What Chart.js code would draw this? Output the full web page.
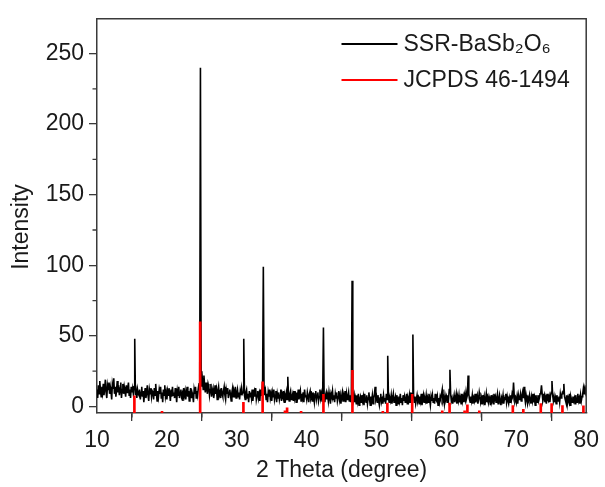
<!DOCTYPE html>
<html>
<head>
<meta charset="utf-8">
<script src="https://cdn.jsdelivr.net/npm/chart.js@4"></script>
<style>
  body { margin: 0; background: #fff; }
  #wrap { width: 605px; height: 487px; }
</style>
</head>
<body>
<div id="wrap"><canvas id="xrdChart" width="605" height="487"></canvas></div>
<script>
// scan grid: 10.0 to 80.0 degrees, 0.1 step (one row of 10 values per degree)
const scanStart = 10;
const scanStep = 0.1;
const intensity = [
    12, 6, 15, 9, 18, 11, 7, 14, 10, 16,      // 10
    8, 13, 19, 10, 6, 15, 12, 17, 9, 14,      // 11
    11, 5, 16, 13, 20, 9, 14, 7, 12, 18,      // 12
    10, 15, 8, 13, 17, 6, 12, 16, 9, 14,      // 13
    11, 7, 15, 10, 13, 17, 8, 12, 6, 14,      // 14
    10, 13, 9, 14, 48, 8, 11, 6, 12, 9,       // 15
    8, 12, 5, 10, 14, 7, 11, 3, 9, 13,        // 16
    6, 10, 15, 8, 4, 12, 9, 13, 7, 11,        // 17
    10, 5, 13, 8, 16, 9, 4, 11, 7, 12,        // 18
    9, 14, 6, 10, 3, 12, 8, 15, 7, 10,        // 19
    5, 11, 8, 13, 9, 4, 12, 7, 14, 8,         // 20
    10, 6, 13, 9, 3, 11, 8, 14, 6, 10,        // 21
    12, 7, 9, 4, 13, 8, 11, 5, 10, 14,        // 22
    7, 11, 4, 9, 13, 6, 10, 8, 3, 12,         // 23
    9, 14, 6, 11, 8, 13, 16, 20, 240, 25,     // 24
    14, 18, 12, 22, 15, 10, 17, 13, 9, 16,    // 25
    14, 8, 12, 16, 7, 11, 13, 6, 10, 15,      // 26
    9, 12, 5, 11, 14, 8, 10, 6, 13, 9,        // 27
    7, 11, 14, 8, 5, 12, 9, 13, 6, 10,        // 28
    12, 8, 4, 10, 13, 7, 11, 9, 14, 6,        // 29
    9, 12, 7, 10, 5, 11, 8, 13, 9, 10,        // 30
    48, 8, 5, 10, 12, 6, 9, 3, 11, 7,         // 31
    10, 6, 12, 4, 9, 11, 7, 13, 5, 8,         // 32
    11, 6, 9, 4, 12, 8, 10, 18, 99, 14,       // 33
    8, 11, 5, 9, 3, 10, 7, 12, 6, 9,          // 34
    4, 10, 7, 12, 5, 8, 11, 3, 9, 6,          // 35
    10, 5, 8, 12, 4, 9, 7, 11, 3, 8,          // 36
    6, 10, 5, 21, 8, 4, 9, 11, 5, 7,          // 37
    9, 4, 11, 6, 8, 3, 10, 7, 12, 5,          // 38
    8, 11, 4, 9, 6, 10, 3, 12, 7, 8,          // 39
    5, 10, 7, 3, 9, 11, 6, 8, 4, 10,          // 40
    7, 3, 9, 11, 5, 8, 10, 4, 7, 12,          // 41
    6, 9, 4, 11, 56, 7, 3, 8, 10, 5,          // 42
    8, 4, 10, 6, 2, 9, 7, 11, 5, 8,           // 43
    3, 9, 6, 10, 4, 7, 11, 5, 8, 2,           // 44
    7, 10, 4, 8, 6, 11, 3, 9, 5, 7,           // 45
    10, 4, 8, 3, 9, 89, 12, 5, 8, 3,          // 46
    6, 2, 8, 4, 9, 1, 5, 7, 3, 8,             // 47
    4, 7, 1, 9, 5, 3, 8, 2, 6, 10,            // 48
    5, 1, 7, 4, 8, 2, 6, 9, 14, 5,            // 49
    7, 3, 8, 4, 1, 6, 9, 3, 5, 2,             // 50
    8, 4, 6, 2, 9, 5, 36, 7, 3, 6,            // 51
    4, 8, 2, 6, 9, 3, 5, 7, 1, 8,             // 52
    5, 2, 7, 4, 9, 3, 6, 1, 8, 4,             // 53
    7, 3, 5, 9, 2, 6, 4, 8, 3, 10,            // 54
    6, 9, 51, 8, 3, 7, 2, 5, 8, 4,            // 55
    6, 2, 7, 4, 9, 1, 5, 8, 3, 6,             // 56
    4, 8, 2, 6, 3, 9, 5, 1, 7, 4,             // 57
    8, 3, 6, 2, 9, 5, 4, 7, 1, 6,             // 58
    3, 7, 5, 9, 12, 4, 6, 2, 8, 5,            // 59
    7, 3, 8, 5, 12, 26, 9, 4, 6, 2,           // 60
    5, 8, 3, 6, 9, 2, 7, 4, 8, 3,             // 61
    6, 2, 9, 4, 7, 3, 8, 5, 10, 6,            // 62
    8, 22, 9, 5, 3, 7, 4, 8, 2, 6,            // 63
    4, 9, 3, 6, 8, 2, 5, 10, 7, 3,            // 64
    6, 2, 8, 4, 7, 1, 5, 9, 3, 6,             // 65
    3, 7, 5, 1, 8, 4, 6, 2, 9, 5,             // 66
    7, 3, 6, 9, 2, 5, 8, 4, 1, 6,             // 67
    4, 8, 2, 6, 5, 9, 3, 7, 4, 2,             // 68
    6, 3, 8, 5, 9, 7, 17, 8, 4, 6,            // 69
    3, 7, 2, 8, 5, 6, 9, 4, 7, 10,            // 70
    6, 14, 7, 3, 8, 5, 2, 6, 4, 8,            // 71
    5, 2, 7, 4, 9, 3, 6, 1, 8, 5,             // 72
    3, 8, 4, 6, 9, 10, 15, 9, 4, 6,           // 73
    8, 3, 6, 2, 9, 5, 4, 7, 3, 8,             // 74
    10, 18, 8, 4, 7, 3, 6, 2, 8, 5,           // 75
    4, 7, 3, 9, 6, 8, 10, 9, 16, 7,           // 76
    5, 3, 8, 2, 6, 4, 9, 1, 7, 5,             // 77
    3, 7, 4, 6, 2, 8, 5, 3, 9, 4,             // 78
    6, 2, 8, 4, 7, 9, 13, 9, 12, 10,          // 79
    15                                        // 80
];

// JCPDS 46-1494 reference lines: position (degree) and top of stick
const refPos = [15.35, 19.3, 24.76, 30.95, 33.7, 36.9, 37.2, 39.2, 42.4, 46.55, 50.9, 51.55, 55.1,
                59.4, 60.45, 62.6, 63.0, 64.7, 69.5, 71.0, 73.5, 75.05, 76.6, 79.6];
const refTop = [7.5, -3.5, 60, 3, 17.5, -3, -1, -3.5, 8.7, 25.7, -3.5, 2.4, 8.7,
                -3, 2.4, -3, 1.2, -3, 0.7, -2, 2, 2, 0.7, 0.5];

const yMin = -4.6;
const yMax = 274.6;
const xMinorTicks = [15, 25, 35, 45, 55, 65, 75];
const yMinorTicks = [25, 75, 125, 175, 225];
const yTitle = 'Intensity';

const axisColor = '#3a3a3a';
const textColor = '#1a1a1a';
const fontFamily = '"Liberation Sans", Arial, sans-serif';

const pattern = intensity.map((v, i) => ({ x: +(scanStart + i * scanStep).toFixed(1), y: v }));
const sticks = refPos.map((p, i) => ({ x: p, y: [yMin, refTop[i]] }));

// frame, minor ticks, y title and the legend inside the plot
const framePlugin = {
    id: 'frame',
    afterDraw(chart) {
        const c = chart.ctx;
        const a = chart.chartArea;
        const xs = chart.scales.x;
        const ys = chart.scales.y;
        c.save();
        c.strokeStyle = axisColor;
        c.lineWidth = 1.5;
        c.beginPath();
        c.moveTo(a.left, a.top);
        c.lineTo(a.right, a.top);
        c.lineTo(a.right, a.bottom);
        c.stroke();
        c.lineWidth = 1.3;
        c.beginPath();
        xMinorTicks.forEach(v => {
            const px = xs.getPixelForValue(v);
            c.moveTo(px, a.bottom);
            c.lineTo(px, a.bottom + 4.5);
        });
        yMinorTicks.forEach(v => {
            const py = ys.getPixelForValue(v);
            c.moveTo(a.left, py);
            c.lineTo(a.left - 4.5, py);
        });
        c.stroke();

        c.font = '23px ' + fontFamily;
        c.fillStyle = textColor;

        // y axis title, a bit below the middle as in the figure
        c.save();
        c.translate(22, 227);
        c.rotate(-Math.PI / 2);
        c.textAlign = 'center';
        c.textBaseline = 'middle';
        c.fillText(yTitle, 0, 0);
        c.restore();

        // legend
        const items = chart.data.datasets;
        const rows = [44, 80];
        c.textBaseline = 'middle';
        items.forEach((ds, i) => {
            c.strokeStyle = ds.type === 'bar' ? ds.backgroundColor : ds.borderColor;
            c.lineWidth = 2;
            c.beginPath();
            c.moveTo(341.5, rows[i]);
            c.lineTo(397.5, rows[i]);
            c.stroke();
            c.fillText(ds.label, 403.5, rows[i] + 1);
        });
        c.restore();
    }
};

const ctx = document.getElementById('xrdChart').getContext('2d');
const xrdChart = new Chart(ctx, {
    type: 'line',
    data: {
        datasets: [
            {
                type: 'line',
                label: 'SSR-BaSb₂O₆',
                data: pattern,
                borderColor: '#000000',
                borderWidth: 1.6,
                pointRadius: 0,
                tension: 0,
                order: 1
            },
            {
                type: 'bar',
                label: 'JCPDS 46-1494',
                data: sticks,
                backgroundColor: '#ff0000',
                borderWidth: 0,
                barThickness: 2,
                grouped: false,
                order: 0
            }
        ]
    },
    options: {
        responsive: false,
        animation: false,
        layout: { padding: { top: 15, right: 18, left: 0, bottom: 0 } },
        plugins: {
            legend: { display: false },
            tooltip: { enabled: false }
        },
        scales: {
            x: {
                type: 'linear',
                min: 10,
                max: 80,
                offset: false,
                afterFit(scale) { scale.height = 74; },
                ticks: {
                    stepSize: 10,
                    includeBounds: false,
                    padding: 6,
                    maxRotation: 0,
                    color: textColor,
                    font: { family: fontFamily, size: 23 }
                },
                grid: { drawOnChartArea: false, drawTicks: true, tickLength: 8, color: axisColor, lineWidth: 1.3 },
                border: { display: true, color: axisColor, width: 1.5 },
                title: {
                    display: true,
                    text: '2 Theta (degree)',
                    color: textColor,
                    font: { family: fontFamily, size: 23 },
                    padding: { top: 0, bottom: 3 }
                }
            },
            y: {
                min: yMin,
                max: yMax,
                afterFit(scale) { scale.width = 97; },
                ticks: {
                    stepSize: 50,
                    includeBounds: false,
                    padding: 5,
                    color: textColor,
                    font: { family: fontFamily, size: 23 }
                },
                grid: { drawOnChartArea: false, drawTicks: true, tickLength: 8, color: axisColor, lineWidth: 1.3 },
                border: { display: true, color: axisColor, width: 1.5 }
            }
        }
    },
    plugins: [framePlugin]
});
</script>
</body>
</html>
